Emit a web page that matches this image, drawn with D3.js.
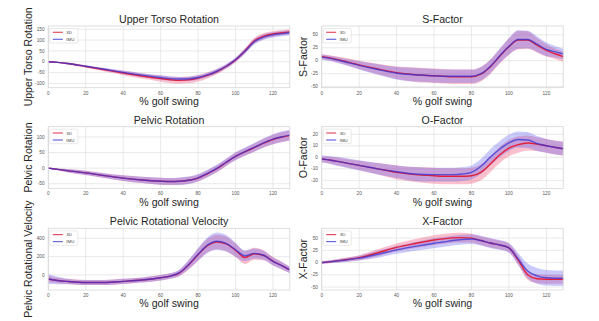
<!DOCTYPE html>
<html>
<head>
<meta charset="utf-8">
<script src="https://cdn.jsdelivr.net/npm/d3@7"></script>
<style>
body { margin: 0; background: #fff; }
svg { display: block; font-family: "Liberation Sans", Arial, sans-serif; }
</style>
</head>
<body>
<svg id="chart" width="599" height="321"></svg>
<script>
// % golf swing sample points shared by every series
var pctSwing = [0, 5, 10, 20, 30, 40, 50, 60, 65, 70, 75, 80, 85, 90, 95, 100, 105, 110, 115, 120, 125, 129];
var xTicks = [0, 20, 40, 60, 80, 100, 120];
var seriesNames = ["3D", "IMU"];

// Upper torso rotation (deg)
var torso3D    = [0, -3, -8, -22, -37, -52, -66, -78, -83, -86, -84, -76, -63, -46, -22, 8, 50, 96, 118, 128, 134, 138];
var torsoIMU   = [0, -3, -8, -21, -35, -49, -62, -73, -78, -80, -79, -73, -61, -44, -21, 9, 48, 92, 114, 124, 130, 134];
var torso3DSd  = [1, 2, 4, 6, 8, 10, 12, 14, 15, 16, 16, 15, 14, 12, 10, 10, 12, 14, 14, 13, 12, 12];
var torsoIMUSd = [1, 2, 3, 5, 6, 8, 9, 10, 10, 10, 10, 10, 10, 10, 10, 10, 12, 13, 13, 12, 12, 12];
var torsoTicks = [-100, -50, 0, 50, 100, 150];

// S-factor
var sfac3D    = [8, 5, 1, -8, -16, -23, -27, -29, -30, -31, -31, -31, -26, -12, 8, 27, 40, 40, 30, 20, 13, 8];
var sfacIMU   = [7, 4, 0, -9, -17, -24, -27, -29, -30, -30, -30, -30, -25, -11, 9, 28, 41, 41, 32, 22, 17, 13];
var sfac3DSd  = [5, 5, 6, 8, 10, 12, 14, 14, 14, 14, 14, 14, 14, 14, 14, 16, 18, 17, 14, 12, 10, 10];
var sfacIMUSd = [5, 5, 6, 8, 10, 12, 13, 13, 13, 13, 13, 13, 13, 13, 14, 16, 18, 17, 15, 13, 11, 10];
var sfacTicks = [-50, -25, 0, 25, 50];

// Pelvic rotation (deg)
var pelvis3D    = [0, -4, -8, -15, -24, -32, -38, -42, -43, -42, -39, -32, -18, -2, 18, 38, 52, 66, 80, 92, 100, 105];
var pelvisIMU   = [0, -4, -8, -15, -24, -32, -38, -42, -43, -42, -39, -31, -17, -1, 19, 38, 53, 67, 81, 93, 101, 106];
var pelvis3DSd  = [1, 3, 5, 7, 8, 9, 10, 11, 11, 11, 11, 11, 11, 11, 11, 12, 12, 13, 14, 15, 16, 16];
var pelvisIMUSd = [1, 3, 5, 7, 8, 9, 10, 11, 11, 12, 12, 12, 12, 12, 12, 13, 13, 14, 15, 16, 17, 17];
var pelvisTicks = [-50, 0, 50, 100];

// O-factor
var ofac3D    = [-1.5, -2.5, -4, -7, -10, -13, -15, -16, -16.5, -16.5, -16.5, -16, -13, -6, 2, 8, 11, 12.5, 11.5, 10, 8.5, 7.5];
var ofacIMU   = [-1.5, -2.5, -4, -7, -10, -12.5, -14.5, -15, -15, -15, -14.5, -13, -8, 0, 7, 12.5, 15.5, 15, 12, 10, 8.5, 7.5];
var ofac3DSd  = [2.5, 3, 3.5, 4, 5, 6, 6.5, 7, 7, 7, 7, 7, 7, 7, 7, 7, 7, 6.5, 6, 6, 6, 6];
var ofacIMUSd = [3, 3.5, 4, 4.5, 5, 5.5, 6, 6, 6, 6, 6, 6, 6.5, 7, 7, 7, 7, 7, 6.5, 6, 6, 6];
var ofacTicks = [-20, -10, 0, 10, 20];

// Pelvic rotational velocity (deg/s)
var pelvVel3D    = [-44, -60, -70, -82, -82, -70, -55, -30, -12, 20, 110, 220, 320, 360, 340, 270, 190, 232, 215, 150, 100, 55];
var pelvVelIMU   = [-44, -60, -70, -82, -82, -70, -55, -30, -12, 25, 115, 225, 325, 368, 345, 275, 210, 235, 215, 148, 98, 55];
var pelvVel3DSd  = [35, 30, 28, 28, 28, 28, 28, 30, 30, 35, 50, 65, 75, 80, 80, 75, 70, 65, 55, 45, 40, 35];
var pelvVelIMUSd = [55, 40, 30, 28, 28, 28, 28, 30, 30, 35, 50, 70, 85, 95, 90, 75, 60, 55, 50, 45, 40, 35];
var pelvVelTicks = [0, 200, 400];

// X-factor
var xfac3D    = [0, 2, 4.5, 10, 20, 31, 39, 46, 48.5, 50.5, 51, 50, 45, 40, 36, 30, 5, -25, -33, -34, -34, -34];
var xfacIMU   = [0, 2, 4, 9, 17, 26, 33, 39.5, 42, 45, 47, 48, 45, 40, 36, 30, 7, -17, -27, -31, -32, -32];
var xfac3DSd  = [3, 3, 4, 5, 7, 8, 9, 10, 10, 10, 10, 9, 9, 9, 9, 9, 10, 10, 9, 9, 9, 9];
var xfacIMUSd = [3, 3, 4, 5, 7, 8, 9, 10, 10, 10, 10, 10, 10, 10, 10, 10, 12, 15, 16, 16, 16, 16];
var xfacTicks = [-50, -25, 0, 25, 50];

var panels = [
  {title: "Upper Torso Rotation", ylab: "Upper Torso Rotation", a: torso3D, b: torsoIMU, sa: torso3DSd, sb: torsoIMUSd, lo: -120, hi: 165, ticks: torsoTicks},
  {title: "S-Factor", ylab: "S-Factor", a: sfac3D, b: sfacIMU, sa: sfac3DSd, sb: sfacIMUSd, lo: -52, hi: 67, ticks: sfacTicks},
  {title: "Pelvic Rotation", ylab: "Pelvic Rotation", a: pelvis3D, b: pelvisIMU, sa: pelvis3DSd, sb: pelvisIMUSd, lo: -65, hi: 133, ticks: pelvisTicks},
  {title: "O-Factor", ylab: "O-Factor", a: ofac3D, b: ofacIMU, sa: ofac3DSd, sb: ofacIMUSd, lo: -27, hi: 26.6, ticks: ofacTicks},
  {title: "Pelvic Rotational Velocity", ylab: "Pelvic Rotational Velocity", a: pelvVel3D, b: pelvVelIMU, sa: pelvVel3DSd, sb: pelvVelIMUSd, lo: -164, hi: 509, ticks: pelvVelTicks},
  {title: "X-Factor", ylab: "X-Factor", a: xfac3D, b: xfacIMU, sa: xfac3DSd, sb: xfacIMUSd, lo: -56, hi: 70, ticks: xfacTicks}
];

var colLeft = [48.3, 321.7], rowTop = [26, 126.7, 228.3];
var plotW = 241.5, plotH = 61.7;
var redLine = "#e3203c", blueLine = "#3434d6";
var redBand = "#ee3a64", blueBand = "#5a5af2";

var svg = d3.select("#chart");

var x = d3.scaleLinear().domain([0, 129]).range([0, plotW]);

panels.forEach(function(p, i) {
  var g = svg.append("g")
    .attr("transform", "translate(" + colLeft[i % 2] + "," + rowTop[Math.floor(i / 2)] + ")");
  var y = d3.scaleLinear().domain([p.lo, p.hi]).range([plotH, 0]);

  // grid
  g.selectAll(".gx").data(xTicks).enter().append("line")
    .attr("x1", function(d) { return x(d); }).attr("x2", function(d) { return x(d); })
    .attr("y1", 0).attr("y2", plotH)
    .attr("stroke", "#e3e3e3").attr("stroke-width", 0.8);
  g.selectAll(".gy").data(p.ticks).enter().append("line")
    .attr("x1", 0).attr("x2", plotW)
    .attr("y1", function(d) { return y(d); }).attr("y2", function(d) { return y(d); })
    .attr("stroke", "#e3e3e3").attr("stroke-width", 0.8);

  // tick labels
  g.selectAll(".tx").data(xTicks).enter().append("text")
    .attr("x", function(d) { return x(d); }).attr("y", plotH + 7)
    .attr("text-anchor", "middle").attr("font-size", 4.7).attr("fill", "#555")
    .text(function(d) { return d; });
  g.selectAll(".ty").data(p.ticks).enter().append("text")
    .attr("x", -3.8).attr("y", function(d) { return y(d); }).attr("dy", "0.35em")
    .attr("text-anchor", "end").attr("font-size", 4.7).attr("fill", "#555")
    .text(function(d) { return d; });

  // sd bands
  var bands = [[p.a, p.sa, redBand], [p.b, p.sb, blueBand]];
  bands.forEach(function(bd) {
    var area = d3.area()
      .curve(d3.curveMonotoneX)
      .x(function(d, j) { return x(pctSwing[j]); })
      .y0(function(d, j) { return y(d - bd[1][j]); })
      .y1(function(d, j) { return y(d + bd[1][j]); });
    g.append("path").datum(bd[0])
      .attr("d", area)
      .attr("fill", bd[2]).attr("fill-opacity", 0.32);
  });

  // mean lines
  var line = d3.line()
    .curve(d3.curveMonotoneX)
    .x(function(d, j) { return x(pctSwing[j]); })
    .y(function(d) { return y(d); });
  g.append("path").datum(p.a).attr("d", line)
    .attr("fill", "none").attr("stroke", redLine).attr("stroke-width", 1.4);
  g.append("path").datum(p.b).attr("d", line)
    .attr("fill", "none").attr("stroke", blueLine).attr("stroke-width", 1.4).attr("stroke-opacity", 0.75);

  // frame
  g.append("rect").attr("width", plotW).attr("height", plotH)
    .attr("fill", "none").attr("stroke", "#d6d6d6").attr("stroke-width", 0.8);

  // legend
  var leg = g.append("g").attr("transform", "translate(1.5,2.5)");
  leg.append("rect").attr("width", 28).attr("height", 14.5).attr("rx", 1)
    .attr("fill", "#fff").attr("fill-opacity", 0.85).attr("stroke", "#dcdcdc").attr("stroke-width", 0.6);
  seriesNames.forEach(function(s, k) {
    leg.append("line").attr("x1", 3).attr("x2", 13).attr("y1", 3.8 + k * 7).attr("y2", 3.8 + k * 7)
      .attr("stroke", k === 0 ? redLine : blueLine).attr("stroke-width", 1.2).attr("stroke-opacity", k === 0 ? 0.8 : 0.75);
    leg.append("text").attr("x", 16.5).attr("y", 3.8 + k * 7).attr("dy", "0.35em")
      .attr("font-size", 4.4).attr("fill", "#444").text(s);
  });

  // titles and labels
  g.append("text").attr("x", plotW / 2).attr("y", -3)
    .attr("text-anchor", "middle").attr("font-size", 10.6).attr("fill", "#262626")
    .text(p.title);
  g.append("text").attr("x", plotW / 2).attr("y", plotH + 17.5)
    .attr("text-anchor", "middle").attr("font-size", 10.6).attr("fill", "#262626")
    .text("% golf swing");
  g.append("text")
    .attr("transform", "translate(" + (i % 2 === 0 ? -20 : -18) + "," + (plotH / 2) + ") rotate(-90)")
    .attr("dy", "0.35em").attr("text-anchor", "middle").attr("font-size", 10.5).attr("fill", "#262626")
    .text(p.ylab);
});
</script>
</body>
</html>
